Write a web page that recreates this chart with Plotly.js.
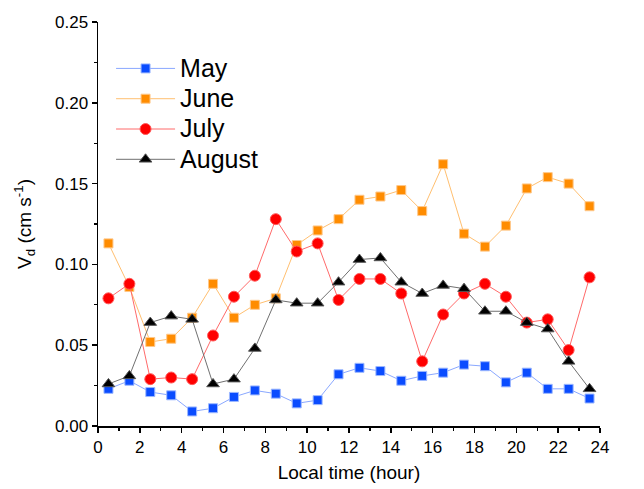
<!DOCTYPE html>
<html>
<head>
<meta charset="utf-8">
<script src="https://cdn.plot.ly/plotly-3.0.1.min.js"></script>
<style>
  html, body { margin: 0; padding: 0; background: #fff; }
  #chart { width: 644px; height: 489px; }
</style>
</head>
<body>
<div id="chart"></div>
<script>
// Hourly deposition velocity, by month (hour-centred bins)
const hours = [0.5, 1.5, 2.5, 3.5, 4.5, 5.5, 6.5, 7.5, 8.5, 9.5, 10.5, 11.5,
               12.5, 13.5, 14.5, 15.5, 16.5, 17.5, 18.5, 19.5, 20.5, 21.5, 22.5, 23.5];

const may = [0.023, 0.028, 0.021, 0.019, 0.009, 0.011, 0.018, 0.022, 0.020, 0.014, 0.016, 0.032,
             0.036, 0.034, 0.028, 0.031, 0.033, 0.038, 0.037, 0.027, 0.033, 0.023, 0.023, 0.017];

const june = [0.113, 0.086, 0.052, 0.054, 0.067, 0.088, 0.067, 0.075, 0.079, 0.112, 0.121, 0.128,
              0.140, 0.142, 0.146, 0.133, 0.162, 0.119, 0.111, 0.124, 0.147, 0.154, 0.150, 0.136];

const july = [0.079, 0.088, 0.029, 0.030, 0.029, 0.056, 0.080, 0.093, 0.128, 0.108, 0.113, 0.078,
              0.091, 0.091, 0.082, 0.040, 0.069, 0.082, 0.088, 0.080, 0.064, 0.066, 0.047, 0.092];

const august = [0.026, 0.031, 0.064, 0.068, 0.066, 0.026, 0.029, 0.048, 0.078, 0.076, 0.076, 0.089,
                0.103, 0.104, 0.089, 0.082, 0.087, 0.085, 0.071, 0.071, 0.064, 0.060, 0.040, 0.023];

const seriesNames = ["May", "June", "July", "August"];

const xTickVals = [0, 2, 4, 6, 8, 10, 12, 14, 16, 18, 20, 22, 24];
const yTickVals = [0, 0.05, 0.10, 0.15, 0.20, 0.25];
const yTickText = ["0.00", "0.05", "0.10", "0.15", "0.20", "0.25"];

const font = "Liberation Sans, Arial, sans-serif";

// Legend labels are drawn larger than the row pitch the legend font implies,
// so rows stay tight while the names read big.
const legendLabel = (s) => '<span style="font-size:25px">' + s + '</span>';

function series(name, y, lineColor, markerColor, edgeColor, symbol, size) {
  return {
    x: hours, y: y, name: legendLabel(name), type: "scatter", mode: "lines+markers",
    line: { color: lineColor, width: 1 },
    marker: { color: markerColor, symbol: symbol, size: size,
              line: { color: edgeColor, width: 1 } }
  };
}

const traces = [
  series(seriesNames[0], may,    "#8aa8ff", "#0a4cff", "#9db8ff", "square",        9),
  series(seriesNames[1], june,   "#ffbf70", "#ff8c00", "#ffc88a", "square",        9),
  series(seriesNames[2], july,   "#ff6a6a", "#ff0000", "#ff5a5a", "circle",        11),
  series(seriesNames[3], august, "#707070", "#000000", "#555555", "triangle-up",   11)
];

const layout = {
  width: 644, height: 489,
  margin: { l: 98, r: 44, t: 22, b: 63 },
  paper_bgcolor: "#fff", plot_bgcolor: "#fff",
  font: { family: font, color: "#000", size: 17 },
  showlegend: true,
  legend: {
    x: 0.026, y: 0.935, xanchor: "left", yanchor: "top",
    bgcolor: "rgba(0,0,0,0)",
    font: { family: font, size: 21, color: "#000" },
    itemwidth: 59, tracegroupgap: 0
  },
  xaxis: {
    range: [0, 24], tickmode: "array", tickvals: xTickVals,
    showgrid: false, zeroline: false,
    showline: true, linecolor: "#000", linewidth: 1.5,
    ticks: "outside", ticklen: 5, tickwidth: 1.5, tickcolor: "#000",
    minor: { dtick: 1, ticks: "outside", ticklen: 3, tickwidth: 1.2, tickcolor: "#000", showgrid: false },
    tickfont: { family: font, size: 17 },
    title: { text: "Local time (hour)", font: { family: font, size: 19 }, standoff: 10 }
  },
  yaxis: {
    range: [0, 0.25], tickmode: "array", tickvals: yTickVals, ticktext: yTickText,
    showgrid: false, zeroline: false,
    showline: true, linecolor: "#000", linewidth: 1.5,
    ticks: "outside", ticklen: 5, tickwidth: 1.5, tickcolor: "#000",
    minor: { dtick: 0.025, tick0: 0, ticks: "outside", ticklen: 3, tickwidth: 1.2, tickcolor: "#000", showgrid: false },
    tickfont: { family: font, size: 17 },
    title: { text: "V<sub>d</sub> (cm s<sup>-1</sup>)", font: { family: font, size: 19 }, standoff: 18 }
  }
};

Plotly.newPlot("chart", traces, layout, { displayModeBar: false, staticPlot: true });
</script>
</body>
</html>
